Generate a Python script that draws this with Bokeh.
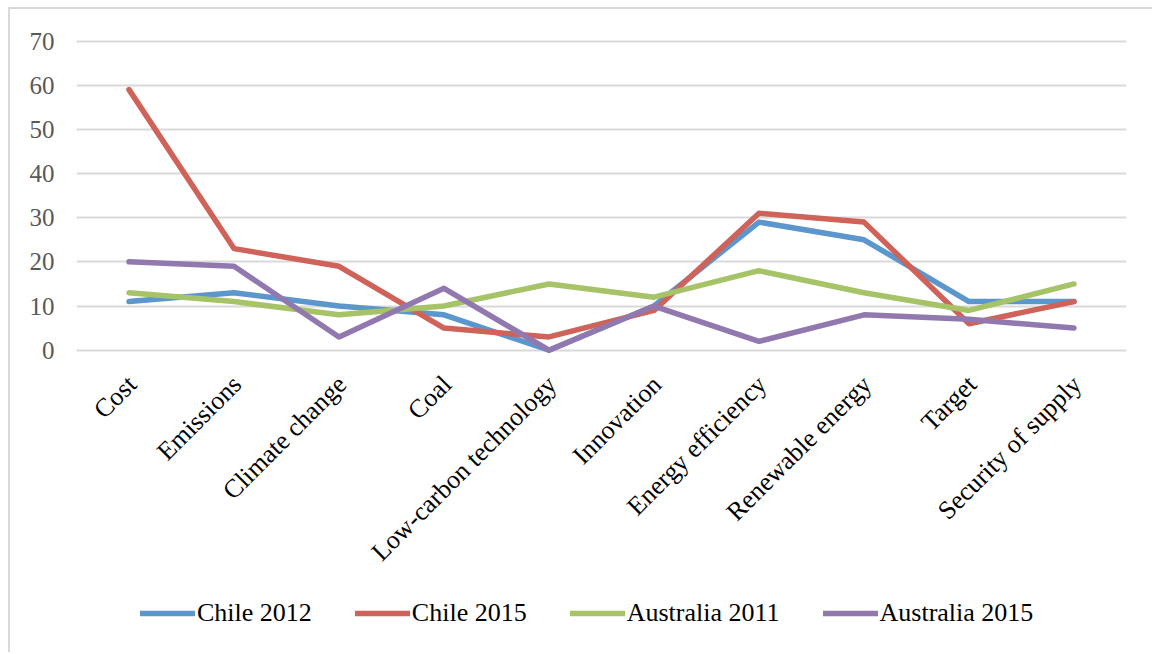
from bokeh.plotting import figure
from bokeh.models import Legend, LegendItem, FactorRange, Range1d, FixedTicker
from bokeh.core.properties import value
from bokeh.embed import file_html
from bokeh.resources import INLINE
import math

categories = ["Cost", "Emissions", "Climate change", "Coal", "Low-carbon technology",
              "Innovation", "Energy efficiency", "Renewable energy", "Target",
              "Security of supply"]
chile_2012 = [11, 13, 10, 8, 0, 10, 29, 25, 11, 11]
chile_2015 = [59, 23, 19, 5, 3, 9, 31, 29, 6, 11]
australia_2011 = [13, 11, 8, 10, 15, 12, 18, 13, 9, 15]
australia_2015 = [20, 19, 3, 14, 0, 10, 2, 8, 7, 5]
series_names = ["Chile 2012", "Chile 2015", "Australia 2011", "Australia 2015"]
series_colors = ["#5B96CD", "#CF6259", "#A6C467", "#9179B0"]
y_ticks = [0, 10, 20, 30, 40, 50, 60, 70]

# The frame reaches down to the legend; only 0..70 gets ticks and grid lines,
# the space below zero holds the slanted category labels and the legend.
p = figure(
    x_range=FactorRange(*categories, range_padding=0),
    y_range=Range1d(-68, 70.8),
    width=1144, height=645,
    output_backend="svg", toolbar_location=None,
    min_border_left=66, min_border_right=28, min_border_top=28, min_border_bottom=4,
    margin=(7, 0, 0, 8),
    styles={"border-top": "2px solid #D9D9D9", "border-left": "2px solid #D9D9D9"},
)
p.outline_line_color = None
p.background_fill_color = "white"
p.border_fill_color = "white"

p.xgrid.grid_line_color = None
p.ygrid.grid_line_color = "#D9D9D9"
p.ygrid.grid_line_width = 2
p.yaxis.ticker = FixedTicker(ticks=y_ticks)
p.xaxis.visible = False

p.yaxis.axis_line_color = None
p.yaxis.major_tick_line_color = None
p.yaxis.minor_tick_line_color = None
p.yaxis.major_tick_out = 0
p.yaxis.major_tick_in = 0
p.yaxis.major_label_text_font = "Liberation Serif"
p.yaxis.major_label_text_font_size = "25px"
p.yaxis.major_label_text_color = "#595959"
p.yaxis.major_label_standoff = 22

# Category labels, slanted at 45 degrees and ending just under the zero line
p.text(x=categories, y=[0] * len(categories), text=categories,
       angle=math.pi / 4, text_align="right", text_baseline="middle",
       x_offset=3, y_offset=30,
       text_font=value("Liberation Serif"), text_font_size="26px",
       text_color="#000000")

items = []
for name, vals, col in zip(series_names,
                           [chile_2012, chile_2015, australia_2011, australia_2015],
                           series_colors):
    r = p.line(categories, vals, line_color=col, line_width=5.5,
               line_cap="round", line_join="round")
    items.append(LegendItem(label=name, renderers=[r]))

legend = Legend(items=items, orientation="horizontal", location=(64, 22),
                glyph_width=55, glyph_height=20, label_standoff=2, spacing=43,
                padding=0, margin=0, border_line_color=None,
                background_fill_alpha=0,
                label_text_font="Liberation Serif", label_text_font_size="26px",
                label_text_color="#000000")
p.add_layout(legend, "center")

open("out.html", "w").write(file_html(p, INLINE))
